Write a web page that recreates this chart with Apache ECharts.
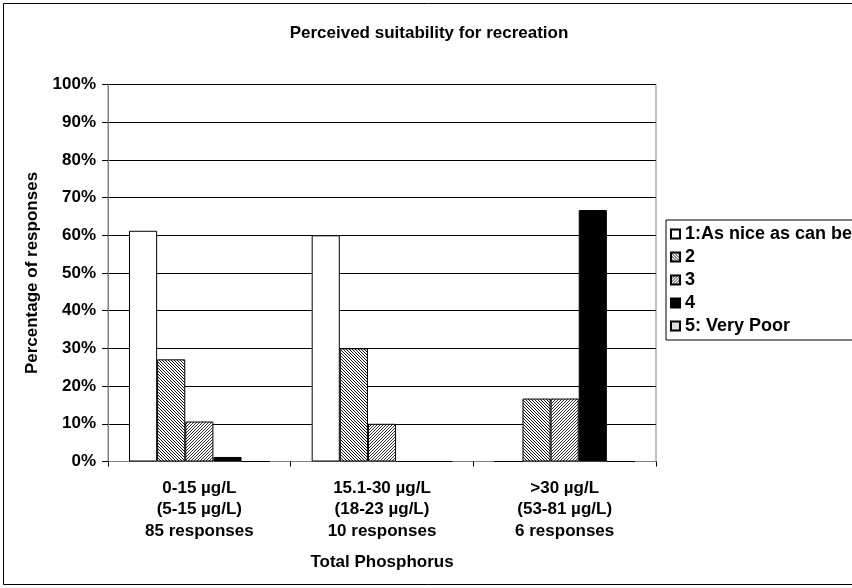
<!DOCTYPE html>
<html>
<head>
<meta charset="utf-8">
<script src="https://cdn.jsdelivr.net/npm/echarts@6/dist/echarts.min.js"></script>
<style>
  html, body { margin: 0; padding: 0; background: #fff; }
  #main { width: 852px; height: 588px; }
</style>
</head>
<body>
<div id="main"></div>
<script>
// categories (total phosphorus classes)
var categories = [
    '0-15 µg/L\n(5-15 µg/L)\n85 responses',
    '15.1-30 µg/L\n(18-23 µg/L)\n10 responses',
    '>30 µg/L\n(53-81 µg/L)\n6 responses'
];
var seriesNames = ['1:As nice as can be', '2', '3', '4', '5: Very Poor'];

// percentage of responses, per rating
var rating1 = [61.2, 60.0, 0];
var rating2 = [27.1, 30.0, 16.7];
var rating3 = [10.6, 10.0, 16.7];
var rating4 = [1.2, 0, 66.7];
var rating5 = [0, 0, 0];

var yTicks = [0, 10, 20, 30, 40, 50, 60, 70, 80, 90, 100];

// little pixel patterns for the hatched bars
function hatch(n, w, dir, fg, bg) {
    var c = document.createElement('canvas');
    c.width = n; c.height = n;
    var ctx = c.getContext('2d');
    ctx.fillStyle = bg;
    ctx.fillRect(0, 0, n, n);
    ctx.fillStyle = fg;
    for (var y = 0; y < n; y++) {
        for (var x = 0; x < n; x++) {
            var k = dir > 0 ? (x - y) : (x + y);
            if (((k % n) + n) % n < w) ctx.fillRect(x, y, 1, 1);
        }
    }
    return { image: c, repeat: 'repeat' };
}
function dots(fg, bg) {
    var c = document.createElement('canvas');
    c.width = 2; c.height = 2;
    var ctx = c.getContext('2d');
    ctx.fillStyle = bg; ctx.fillRect(0, 0, 2, 2);
    ctx.fillStyle = fg; ctx.fillRect(0, 0, 1, 1); ctx.fillRect(1, 1, 1, 1);
    return { image: c, repeat: 'repeat' };
}

var fills = [
    '#ffffff',
    hatch(3, 1, 1, '#1a1a1a', '#ffffff'),
    hatch(3, 1, -1, '#333333', '#ffffff'),
    '#000000',
    dots('#c8c8c8', '#f4f4f4')
];
var values = [rating1, rating2, rating3, rating4, rating5];

var font = 'Arial, "Liberation Sans", sans-serif';
var fs = 17;

var myChart = echarts.init(document.getElementById('main'));

var series = seriesNames.map(function (name, i) {
    return {
        name: name,
        type: 'bar',
        data: values[i],
        barGap: '0%',
        barCategoryGap: '23%',
        itemStyle: {
            color: fills[i],
            borderColor: '#000',
            borderWidth: 1
        },
        emphasis: { disabled: true },
        animation: false
    };
});

var option = {
    backgroundColor: '#fff',
    title: {
        text: 'Perceived suitability for recreation',
        left: 424,
        top: 20,
        textAlign: 'center',
        textStyle: { fontFamily: font, fontSize: fs, fontWeight: 'bold', color: '#000' }
    },
    legend: {
        orient: 'vertical',
        left: 666,
        top: 220,
        itemWidth: 9,
        itemHeight: 9,
        itemGap: 5,
        padding: [5, 40, 5, 4],
        backgroundColor: '#fff',
        borderColor: '#000',
        borderWidth: 1,
        selectedMode: false,
        icon: 'rect',
        data: seriesNames,
        textStyle: { fontFamily: font, fontSize: 18, fontWeight: 'bold', color: '#000', lineHeight: 18 }
    },
    grid: {
        left: 108,
        right: 196,
        top: 84.5,
        bottom: 126.5,
        show: true,
        borderColor: '#808080',
        borderWidth: 1
    },
    xAxis: {
        type: 'category',
        data: categories,
        name: 'Total Phosphorus',
        nameLocation: 'middle',
        nameGap: 92,
        nameTextStyle: { fontFamily: font, fontSize: fs, fontWeight: 'bold', color: '#000' },
        axisLine: { lineStyle: { color: '#808080', width: 1 } },
        axisTick: { show: true, length: 5, lineStyle: { color: '#000' } },
        axisLabel: {
            fontFamily: font, fontSize: fs, fontWeight: 'bold', color: '#000',
            lineHeight: 21.5, margin: 16
        }
    },
    yAxis: {
        type: 'value',
        min: yTicks[0],
        max: yTicks[yTicks.length - 1],
        interval: 10,
        name: 'Percentage of responses',
        nameLocation: 'middle',
        nameGap: 67,
        nameTextStyle: { fontFamily: font, fontSize: fs, fontWeight: 'bold', color: '#000' },
        axisLine: { show: true, lineStyle: { color: '#808080', width: 1 } },
        axisTick: { show: true, inside: false, length: 6, lineStyle: { color: '#000' } },
        axisLabel: {
            fontFamily: font, fontSize: fs, fontWeight: 'bold', color: '#000', margin: 12,
            formatter: '{value}%'
        },
        splitLine: { lineStyle: { color: '#000', width: 1 } }
    },
    graphic: [{
        type: 'rect',
        shape: { x: 3.5, y: 3.5, width: 860, height: 581 },
        style: { fill: 'none', stroke: '#000', lineWidth: 1 },
        silent: true,
        z: 100
    }],
    series: series
};

myChart.setOption(option);
</script>
</body>
</html>
